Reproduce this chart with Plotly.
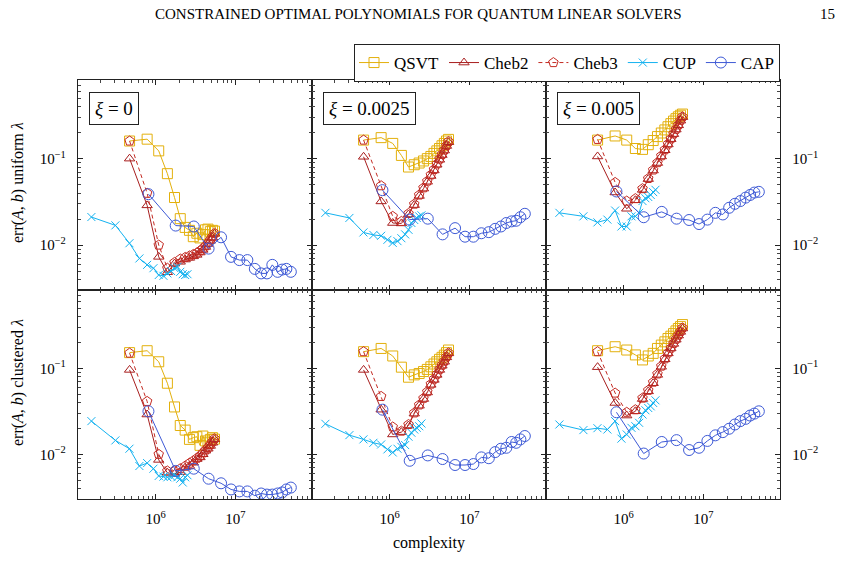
import plotly.graph_objects as go
from plotly.subplots import make_subplots

# ---------------- data ----------------
X_POLY = [4.7e5, 7.8e5, 1.09e6, 1.4e6, 1.72e6, 2.03e6, 2.34e6, 2.65e6, 2.96e6,
          3.28e6, 3.59e6, 3.9e6, 4.21e6, 4.52e6, 4.84e6, 5.15e6, 5.46e6]
X_CUP = [1.56e5, 3.12e5, 4.68e5, 6.24e5, 7.8e5, 9.36e5, 1.09e6, 1.25e6, 1.4e6,
         1.56e6, 1.72e6, 1.87e6, 2.03e6, 2.18e6, 2.34e6, 2.5e6]
X_CAP = [8.1e5, 1.78e6, 3.0e6, 4.6e6, 6.6e6, 8.8e6, 1.12e7, 1.41e7, 1.75e7,
         2.1e7, 2.48e7, 2.9e7, 3.38e7, 3.85e7, 4.35e7, 4.95e7]

# uniform lambda, xi = 0
QSVT_U0 = [0.16, 0.168, 0.123, 0.067, 0.0355, 0.0202, 0.016, 0.0148, 0.0125, 0.0137,
           0.0121, 0.0132, 0.015, 0.0153, 0.0143, 0.0148, 0.0145]
CHEB2_U0 = [0.1, 0.0288, 0.0073, 0.00485, 0.0061, 0.0064, 0.0068, 0.0071, 0.0074, 0.0077,
            0.0082, 0.0088, 0.0095, 0.0103, 0.0112, 0.0122, 0.0135]
CHEB3_U0 = [0.16, 0.0398, 0.01, 0.0054, 0.0063, 0.0069, 0.0072, 0.0075, 0.0078, 0.0081,
            0.0086, 0.0091, 0.0098, 0.0106, 0.0115, 0.0125, 0.0137]
CUP_U0 = [0.0211, 0.0169, 0.0105, 0.007, 0.0059, 0.0054, 0.0045, 0.0044, 0.0047, 0.005,
          0.0054, 0.0056, 0.0049, 0.0046, 0.0045, 0.0046]
CAP_U0 = [0.0388, 0.0168, 0.0164, 0.0091, 0.0123, 0.0073, 0.0067, 0.0067, 0.0053, 0.0047,
          0.0047, 0.0059, 0.0049, 0.0052, 0.0053, 0.0049]

# uniform lambda, xi = 0.0025
QSVT_U1 = [0.164, 0.175, 0.15, 0.109, 0.08, 0.085, 0.089, 0.094, 0.1, 0.106,
           0.115, 0.123, 0.131, 0.141, 0.15, 0.16, 0.167]
CHEB2_U1 = [0.105, 0.032, 0.018, 0.0178, 0.0226, 0.029, 0.037, 0.045, 0.054, 0.063,
            0.073, 0.085, 0.097, 0.11, 0.124, 0.14, 0.155]
CHEB3_U1 = [0.164, 0.0486, 0.0215, 0.0188, 0.0232, 0.0298, 0.038, 0.046, 0.055, 0.065,
            0.075, 0.087, 0.099, 0.112, 0.126, 0.142, 0.158]
CUP_U1 = [0.0236, 0.0206, 0.014, 0.0131, 0.0128, 0.0115, 0.0106, 0.0111, 0.012, 0.0133,
          0.015, 0.018, 0.0195, 0.0206, 0.0215, 0.0221]
CAP_U1 = [0.0432, 0.0197, 0.0202, 0.0133, 0.0157, 0.0125, 0.0125, 0.0137, 0.0141, 0.0154,
          0.0164, 0.018, 0.0188, 0.0191, 0.021, 0.023]

# uniform lambda, xi = 0.005
QSVT_U2 = [0.164, 0.183, 0.164, 0.131, 0.128, 0.145, 0.162, 0.18, 0.198, 0.215,
           0.234, 0.254, 0.272, 0.29, 0.305, 0.318, 0.328]
CHEB2_U2 = [0.106, 0.0406, 0.0263, 0.033, 0.0435, 0.058, 0.0729, 0.089, 0.106, 0.125,
            0.146, 0.168, 0.192, 0.217, 0.243, 0.275, 0.302]
CHEB3_U2 = [0.167, 0.0531, 0.0323, 0.0345, 0.045, 0.059, 0.074, 0.09, 0.108, 0.127,
            0.148, 0.17, 0.194, 0.219, 0.246, 0.278, 0.305]
CUP_U2 = [0.0236, 0.0215, 0.0183, 0.0197, 0.0251, 0.0164, 0.0164, 0.0215, 0.0215, 0.0236,
          0.0323, 0.0348, 0.036, 0.038, 0.041, 0.0436]
CAP_U2 = [0.0417, 0.021, 0.0242, 0.0202, 0.0195, 0.0175, 0.0197, 0.0236, 0.0226, 0.027,
          0.03, 0.0323, 0.0354, 0.038, 0.0405, 0.0413]

# clustered lambda, xi = 0
QSVT_C0 = [0.152, 0.16, 0.119, 0.067, 0.0355, 0.0216, 0.0191, 0.0149, 0.0156, 0.016,
           0.0127, 0.0163, 0.0143, 0.0136, 0.0149, 0.0156, 0.015]
CHEB2_C0 = [0.0957, 0.029, 0.0086, 0.0061, 0.0059, 0.0062, 0.007, 0.0073, 0.008, 0.0088,
            0.0092, 0.01, 0.011, 0.0116, 0.0125, 0.0136, 0.0149]
CHEB3_C0 = [0.15, 0.0412, 0.01, 0.0064, 0.0064, 0.0068, 0.0073, 0.0079, 0.0084, 0.009,
            0.0096, 0.0104, 0.0112, 0.012, 0.013, 0.014, 0.0152]
CUP_C0 = [0.0243, 0.0145, 0.0116, 0.0073, 0.0079, 0.0068, 0.0056, 0.0055, 0.0054, 0.0055,
          0.0057, 0.0054, 0.0052, 0.0047, 0.0054, 0.0057]
CAP_C0 = [0.0316, 0.0064, 0.0068, 0.0052, 0.0046, 0.0039, 0.0037, 0.0037, 0.0033, 0.0035,
          0.0034, 0.0034, 0.0035, 0.0036, 0.0039, 0.0041]

# clustered lambda, xi = 0.0025
QSVT_C1 = [0.156, 0.17, 0.139, 0.103, 0.0787, 0.0838, 0.087, 0.0916, 0.097, 0.104,
           0.112, 0.119, 0.127, 0.134, 0.142, 0.152, 0.163]
CHEB2_C1 = [0.0957, 0.033, 0.017, 0.0181, 0.0216, 0.0297, 0.0367, 0.0439, 0.0523, 0.0642,
            0.0733, 0.0838, 0.0957, 0.107, 0.119, 0.134, 0.149]
CHEB3_C1 = [0.156, 0.0471, 0.0208, 0.0186, 0.0222, 0.0303, 0.0375, 0.0448, 0.0535, 0.0655,
            0.075, 0.0855, 0.0975, 0.109, 0.121, 0.136, 0.151]
CUP_C1 = [0.0226, 0.0167, 0.0149, 0.0136, 0.013, 0.0114, 0.0105, 0.0116, 0.0122, 0.0128,
          0.016, 0.0178, 0.0194, 0.0203, 0.0212, 0.0228]
CAP_C1 = [0.033, 0.0084, 0.0097, 0.0088, 0.0075, 0.0075, 0.0077, 0.0092, 0.009, 0.0106,
          0.0116, 0.0119, 0.0139, 0.0136, 0.0149, 0.0163]

# clustered lambda, xi = 0.005
QSVT_C2 = [0.16, 0.178, 0.163, 0.143, 0.125, 0.139, 0.149, 0.17, 0.186, 0.203,
           0.222, 0.236, 0.253, 0.272, 0.29, 0.305, 0.322]
CHEB2_C2 = [0.103, 0.0395, 0.0282, 0.0316, 0.0439, 0.0539, 0.067, 0.0838, 0.104, 0.127,
            0.149, 0.17, 0.192, 0.215, 0.24, 0.265, 0.29]
CHEB3_C2 = [0.156, 0.0515, 0.0308, 0.033, 0.045, 0.0555, 0.069, 0.086, 0.106, 0.129,
            0.151, 0.172, 0.195, 0.218, 0.243, 0.268, 0.295]
CUP_C2 = [0.0222, 0.0191, 0.0201, 0.0194, 0.0243, 0.0152, 0.017, 0.0203, 0.0212, 0.0232,
          0.029, 0.0325, 0.0345, 0.0361, 0.0395, 0.0424]
CAP_C2 = [0.0308, 0.0102, 0.0139, 0.0146, 0.0112, 0.0119, 0.0143, 0.0166, 0.0181, 0.0198,
          0.0222, 0.0243, 0.0258, 0.0282, 0.0297, 0.0316]

XI_LABELS = ["0", "0.0025", "0.005"]
ROW_LABELS = ["uniform", "clustered"]
SERIES_NAMES = ["QSVT", "Cheb2", "Cheb3", "CUP", "CAP"]

# ---------------- styling ----------------
W, H = 845, 587
FONT = "Liberation Serif"
STYLE = {
    "QSVT": dict(color="#E3B00C", symbol="square-open", size=10, dash="solid"),
    "Cheb2": dict(color="#A81E1E", symbol="triangle-up-open", size=9, dash="solid"),
    "Cheb3": dict(color="#C42A22", symbol="pentagon-open", size=10, dash="4px,3px"),
    "CUP": dict(color="#14B2F0", symbol="x-thin", size=8, dash="solid"),
    "CAP": dict(color="#3E5AD6", symbol="circle-open", size=11, dash="solid"),
}

PANEL_DATA = [
    [(QSVT_U0, CHEB2_U0, CHEB3_U0, CUP_U0, CAP_U0),
     (QSVT_U1, CHEB2_U1, CHEB3_U1, CUP_U1, CAP_U1),
     (QSVT_U2, CHEB2_U2, CHEB3_U2, CUP_U2, CAP_U2)],
    [(QSVT_C0, CHEB2_C0, CHEB3_C0, CUP_C0, CAP_C0),
     (QSVT_C1, CHEB2_C1, CHEB3_C1, CUP_C1, CAP_C1),
     (QSVT_C2, CHEB2_C2, CHEB3_C2, CUP_C2, CAP_C2)],
]
X_FOR = {"QSVT": X_POLY, "Cheb2": X_POLY, "Cheb3": X_POLY, "CUP": X_CUP, "CAP": X_CAP}

fig = make_subplots(rows=2, cols=3, horizontal_spacing=0, vertical_spacing=0)

for r in range(2):
    for c in range(3):
        for name, ys in zip(SERIES_NAMES, PANEL_DATA[r][c]):
            st = STYLE[name]
            fig.add_trace(go.Scatter(
                x=X_FOR[name], y=ys, mode="lines+markers", name=name,
                legendgroup=name, showlegend=(r == 0 and c == 0),
                line=dict(color=st["color"], width=1, dash=st["dash"]),
                marker=dict(symbol=st["symbol"], size=st["size"], color=st["color"],
                            line=dict(width=1, color=st["color"])),
            ), row=r + 1, col=c + 1)

# panel geometry in pixels
XE = [78, 312, 546, 780]
YE = [80, 290, 499]

x_minor = [m * 10 ** e for e in (5, 6, 7) for m in range(2, 10)]
y_minor = [m * 10 ** e for e in (-3, -2, -1) for m in range(2, 10)]
axfont = dict(family=FONT, size=15, color="black")

for r in range(2):
    for c in range(3):
        fig.update_xaxes(
            type="log", range=[5.025, 7.96],
            domain=[XE[c] / W, XE[c + 1] / W],
            tickmode="array", tickvals=[1e6, 1e7],
            ticktext=["10<sup>6</sup>", "10<sup>7</sup>"],
            ticks="inside", ticklen=5, tickcolor="#222", tickwidth=1,
            minor=dict(tickmode="array", tickvals=x_minor, ticks="inside", ticklen=3,
                       tickcolor="#444", tickwidth=1, showgrid=False),
            showline=True, linecolor="#222", linewidth=1.3, mirror="allticks",
            showgrid=False, zeroline=False,
            showticklabels=(r == 1), tickfont=axfont, ticklabelstandoff=6,
            row=r + 1, col=c + 1)
        fig.update_yaxes(
            type="log", range=[-2.52, -0.09],
            domain=[1 - YE[r + 1] / H, 1 - YE[r] / H],
            tickmode="array", tickvals=[0.01, 0.1],
            ticktext=["10<sup>−2</sup>", "10<sup>−1</sup>"],
            ticks="inside", ticklen=5, tickcolor="#222", tickwidth=1,
            minor=dict(tickmode="array", tickvals=y_minor, ticks="inside", ticklen=3,
                       tickcolor="#444", tickwidth=1, showgrid=False),
            showline=True, linecolor="#222", linewidth=1.3, mirror="allticks",
            showgrid=False, zeroline=False,
            showticklabels=(c != 1), side=("right" if c == 2 else "left"),
            tickfont=axfont, ticklabelstandoff=8,
            row=r + 1, col=c + 1)

annotations = []
# xi boxes
for c, lab in enumerate(XI_LABELS):
    annotations.append(dict(
        xref="x domain" if c == 0 else f"x{c + 1} domain",
        yref="y domain" if c == 0 else f"y{c + 1} domain",
        x=0.045, y=0.945, xanchor="left", yanchor="top", showarrow=False,
        text=f"<i>ξ</i> = {lab}", font=dict(family=FONT, size=19, color="black"),
        bordercolor="#222", borderwidth=1, borderpad=5, bgcolor="white"))

# y titles
for r, lab in enumerate(ROW_LABELS):
    yc = [183, 383][r]
    annotations.append(dict(
        xref="paper", yref="paper", x=18 / W, y=1 - yc / H, xanchor="center",
        yanchor="middle", showarrow=False, textangle=-90,
        text=f"err(<i>A</i>, <i>b</i>) {lab} <i>λ</i>",
        font=dict(family=FONT, size=16, color="black")))

# x title
annotations.append(dict(xref="paper", yref="paper", x=429 / W, y=1 - 543 / H,
                        xanchor="center", yanchor="middle", showarrow=False,
                        text="complexity", font=dict(family=FONT, size=16, color="black")))
# page header
annotations.append(dict(xref="paper", yref="paper", x=418 / W, y=1 - 14 / H,
                        xanchor="center", yanchor="middle", showarrow=False,
                        text="CONSTRAINED OPTIMAL POLYNOMIALS FOR QUANTUM LINEAR SOLVERS",
                        font=dict(family=FONT, size=15, color="black")))
annotations.append(dict(xref="paper", yref="paper", x=827 / W, y=1 - 14 / H,
                        xanchor="center", yanchor="middle", showarrow=False,
                        text="15", font=dict(family=FONT, size=15, color="black")))

fig.update_layout(
    width=W, height=H, margin=dict(l=0, r=0, t=0, b=0),
    paper_bgcolor="white", plot_bgcolor="white",
    font=dict(family=FONT, size=15, color="black"),
    annotations=annotations,
    legend=dict(orientation="h", x=780 / W, xanchor="right", y=1 - 44 / H, yanchor="top",
                bordercolor="#222", borderwidth=1, bgcolor="white",
                font=dict(family=FONT, size=17, color="black"),
                itemwidth=30, tracegroupgap=0),
)

fig.write_html("out.html")
